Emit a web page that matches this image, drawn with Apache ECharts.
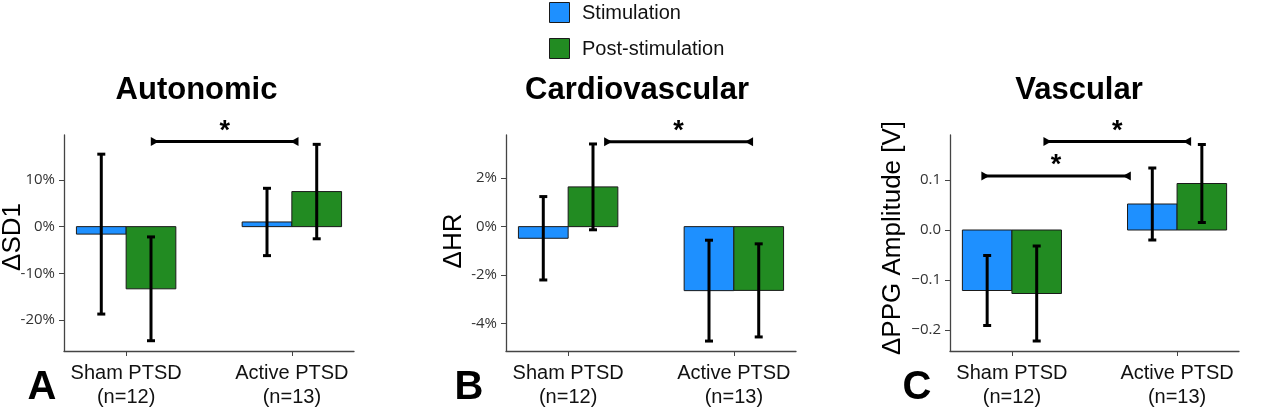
<!DOCTYPE html>
<html>
<head>
<meta charset="utf-8">
<script src="https://cdn.jsdelivr.net/npm/echarts@6/dist/echarts.min.js"></script>
<style>
html,body{margin:0;padding:0;background:#fff;}
#c{width:1280px;height:414px;}
</style>
</head>
<body>
<div id="c"></div>
<script>
// ---------- data ----------
const groupNames = ['Sham PTSD', 'Active PTSD'];
const groupN = ['(n=12)', '(n=13)'];
const seriesNames = ['Stimulation', 'Post-stimulation'];
const panelTitles = ['Autonomic', 'Cardiovascular', 'Vascular'];
const panelLetters = ['A', 'B', 'C'];
const yNames = ['ΔSD1', 'ΔHR', 'ΔPPG Amplitude [V]'];

// Autonomic (ΔSD1, %)
const autoStim = [-1.6, 1.0];
const autoStimErr = [17.1, 7.2];
const autoPost = [-13.3, 7.5];
const autoPostErr = [11.1, 10.1];
// Cardiovascular (ΔHR, %)
const cardStim = [-0.48, -2.64];
const cardStimErr = [1.72, 2.08];
const cardPost = [1.64, -2.63];
const cardPostErr = [1.77, 1.92];
// Vascular (ΔPPG amplitude, V)
const vascStim = [-0.121, 0.052];
const vascStimErr = [0.07, 0.072];
const vascPost = [-0.127, 0.093];
const vascPostErr = [0.095, 0.078];

// y tick labels
const autoTicks = [-20, -10, 0, 10];
const cardTicks = [-4, -2, 0, 2];
const vascTicks = [-0.2, -0.1, 0, 0.1];
const yRanges = [[-26.6, 19.6], [-5.13, 3.78], [-0.242, 0.19]];

// significance brackets: [x start, x end, y level] (x in group units)
const autoSig = [[0.155, 1.034, 18.2]];
const cardSig = [[0.223, 1.11, 3.5]];
const vascSig = [[-0.179, 0.714, 0.108], [0.197, 1.079, 0.177]];

// ---------- chart ----------
const BLUE = '#1E90FF', GREEN = '#228B22';
const BARW = 0.3;
const chart = echarts.init(document.getElementById('c'), null, {renderer: 'canvas'});

const grids = [
  {left: 64, right: 926, top: 135, bottom: 63},
  {left: 506, right: 484, top: 135, bottom: 63},
  {left: 950, right: 41, top: 135, bottom: 63}
];
const panels = [
  {stim: autoStim, stimErr: autoStimErr, post: autoPost, postErr: autoPostErr, ticks: autoTicks, sig: autoSig,
   fmt: v => (v < 0 ? '-' : '') + Math.abs(v) + '%'},
  {stim: cardStim, stimErr: cardStimErr, post: cardPost, postErr: cardPostErr, ticks: cardTicks, sig: cardSig,
   fmt: v => (v < 0 ? '-' : '') + Math.abs(v) + '%'},
  {stim: vascStim, stimErr: vascStimErr, post: vascPost, postErr: vascPostErr, ticks: vascTicks, sig: vascSig,
   fmt: v => (v < 0 ? '\u2212' : '') + Math.abs(v).toFixed(1)}
];

const AX = '#444';
const xAxes = [], yAxes = [], series = [];

function barRender(side, color) {
  return function (params, api) {
    const x = api.value(0), v = api.value(1);
    const xa = side < 0 ? x - BARW : x, xb = side < 0 ? x : x + BARW;
    const p0 = api.coord([xa, v]);
    const p1 = api.coord([xb, 0]);
    return {
      type: 'rect',
      shape: {x: Math.min(p0[0], p1[0]), y: Math.min(p0[1], p1[1]),
              width: Math.abs(p1[0] - p0[0]), height: Math.abs(p1[1] - p0[1])},
      style: {fill: color, stroke: '#1a1a1a', lineWidth: 1}
    };
  };
}
function errRender(params, api) {
  const x = api.value(0), m = api.value(1), e = api.value(2);
  const top = api.coord([x, m + e]), bot = api.coord([x, m - e]);
  const cap = 4;
  const st = {stroke: '#000', lineWidth: 3};
  return {
    type: 'group',
    children: [
      {type: 'line', shape: {x1: top[0], y1: top[1], x2: bot[0], y2: bot[1]}, style: st},
      {type: 'line', shape: {x1: top[0] - cap, y1: top[1], x2: top[0] + cap, y2: top[1]}, style: st},
      {type: 'line', shape: {x1: bot[0] - cap, y1: bot[1], x2: bot[0] + cap, y2: bot[1]}, style: st}
    ]
  };
}
function sigRender(params, api) {
  const a = api.coord([api.value(0), api.value(2)]);
  const b = api.coord([api.value(1), api.value(2)]);
  const h = 4.5, w = 7;
  return {
    type: 'group',
    children: [
      {type: 'line', shape: {x1: a[0], y1: a[1], x2: b[0], y2: b[1]}, style: {stroke: '#000', lineWidth: 3}},
      {type: 'polygon', shape: {points: [[a[0] - 1, a[1] - h], [a[0] + w, a[1]], [a[0] - 1, a[1] + h]]}, style: {fill: '#000'}},
      {type: 'polygon', shape: {points: [[b[0] + 1, b[1] - h], [b[0] - w, b[1]], [b[0] + 1, b[1] + h]]}, style: {fill: '#000'}},
      {type: 'text', x: (a[0] + b[0]) / 2, y: a[1] - 10,
       style: {text: '*', fill: '#000', font: 'bold 27px "Liberation Sans", Arial, sans-serif', align: 'center', verticalAlign: 'middle'}}
    ]
  };
}

panels.forEach((p, i) => {
  xAxes.push({
    type: 'value', gridIndex: i, min: -0.375, max: 1.375,
    axisLine: {show: true, onZero: false, lineStyle: {color: AX, width: 1.3}},
    axisTick: {show: true, customValues: [0, 1], length: 5, lineStyle: {color: AX}},
    axisLabel: {customValues: [0, 1], margin: 10, color: '#111', fontSize: 20, lineHeight: 24,
      fontFamily: '"Liberation Sans", Arial, sans-serif',
      formatter: v => groupNames[Math.round(v)] + '\n' + groupN[Math.round(v)]},
    splitLine: {show: false}
  });
  yAxes.push({
    type: 'value', gridIndex: i, min: yRanges[i][0], max: yRanges[i][1],
    axisLine: {show: true, onZero: false, lineStyle: {color: AX, width: 1.3}},
    axisTick: {show: true, customValues: p.ticks, length: 5, inside: false, lineStyle: {color: AX}},
    axisLabel: {customValues: p.ticks, margin: 9, color: '#333', fontSize: 15,
      fontFamily: '"Open Sans", sans-serif', formatter: p.fmt},
    splitLine: {show: false}
  });
  series.push({
    type: 'custom', name: seriesNames[0], xAxisIndex: i, yAxisIndex: i,
    renderItem: barRender(-1, BLUE), data: p.stim.map((v, k) => [k, v]), z: 2
  });
  series.push({
    type: 'custom', name: seriesNames[1], xAxisIndex: i, yAxisIndex: i,
    renderItem: barRender(1, GREEN), data: p.post.map((v, k) => [k, v]), z: 2
  });
  series.push({
    type: 'custom', xAxisIndex: i, yAxisIndex: i, renderItem: errRender, z: 3,
    data: p.stim.map((v, k) => [k - BARW / 2, v, p.stimErr[k]]).concat(
          p.post.map((v, k) => [k + BARW / 2, v, p.postErr[k]]))
  });
  series.push({
    type: 'custom', xAxisIndex: i, yAxisIndex: i, renderItem: sigRender, z: 4,
    data: p.sig
  });
});

const titleX = [196.5, 637, 1079];
const yNamePos = [[13, 237], [454, 241], [893, 238]];
const letterX = [42, 469, 917];
const graphics = [];
panelTitles.forEach((t, i) => {
  graphics.push({type: 'text', x: titleX[i], y: 90,
    style: {text: t, fill: '#000', font: 'bold 31px "Liberation Sans", Arial, sans-serif', align: 'center', verticalAlign: 'middle'}});
  graphics.push({type: 'text', x: yNamePos[i][0], y: yNamePos[i][1], rotation: Math.PI / 2,
    style: {text: yNames[i], fill: '#000', font: '26px "Liberation Sans", Arial, sans-serif', align: 'center', verticalAlign: 'middle'}});
  graphics.push({type: 'text', x: letterX[i], y: 388,
    style: {text: panelLetters[i], fill: '#000', font: 'bold 40px "Liberation Sans", Arial, sans-serif', align: 'center', verticalAlign: 'middle'}});
});
// legend
[[BLUE, 2, 13], [GREEN, 38, 49]].forEach((l, k) => {
  graphics.push({type: 'rect', shape: {x: 549.5, y: l[1] + 0.5, width: 20, height: 20},
    style: {fill: l[0], stroke: '#1a1a1a', lineWidth: 1}});
  graphics.push({type: 'text', x: 582, y: l[2],
    style: {text: seriesNames[k], fill: '#111', font: '20px "Liberation Sans", Arial, sans-serif', align: 'left', verticalAlign: 'middle'}});
});

chart.setOption({
  animation: false,
  grid: grids,
  xAxis: xAxes,
  yAxis: yAxes,
  series: series,
  graphic: graphics
});
</script>
</body>
</html>
